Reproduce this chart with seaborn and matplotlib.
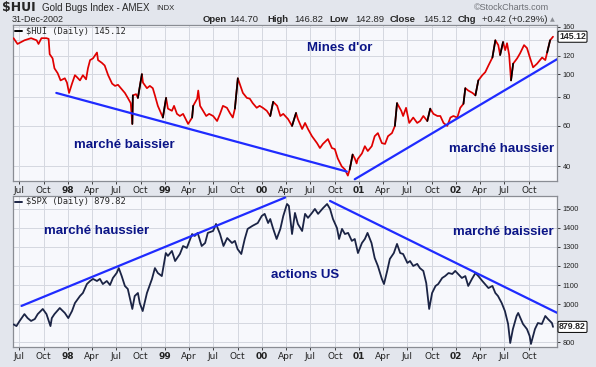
import matplotlib
matplotlib.use("Agg")
import matplotlib.pyplot as plt
import matplotlib.ticker as mticker
import pandas as pd
import seaborn as sns

# ---------------- data ----------------
hui_dates = [
    "1997-06-10", "1997-06-25", "1997-07-21", "1997-08-15", "1997-09-05", "1997-09-12", "1997-09-23",
    "1997-10-12", "1997-10-20", "1997-10-24", "1997-11-04", "1997-11-11", "1997-11-23", "1997-12-04",
    "1997-12-20", "1997-12-28", "1998-01-05", "1998-01-16", "1998-01-27", "1998-02-04", "1998-02-15",
    "1998-02-26", "1998-03-10", "1998-03-17", "1998-03-25", "1998-04-05", "1998-04-20", "1998-04-24",
    "1998-05-08", "1998-05-19", "1998-06-01", "1998-06-16", "1998-06-27", "1998-07-08", "1998-07-19",
    "1998-08-03", "1998-08-14", "1998-08-25", "1998-08-31", "1998-09-02", "1998-09-14", "1998-09-21",
    "1998-10-06", "1998-10-10", "1998-10-25", "1998-11-05", "1998-11-16", "1998-11-24", "1998-12-05",
    "1998-12-24", "1999-01-05", "1999-01-12", "1999-01-27", "1999-02-04", "1999-02-15", "1999-02-26",
    "1999-03-10", "1999-03-17", "1999-03-29", "1999-04-13", "1999-04-17", "1999-05-02", "1999-05-06",
    "1999-05-13", "1999-05-24", "1999-06-05", "1999-06-16", "1999-07-01", "1999-07-16", "1999-07-27",
    "1999-08-07", "1999-08-22", "1999-09-02", "1999-09-13", "1999-09-21", "1999-10-02", "1999-10-09",
    "1999-10-21", "1999-11-05", "1999-11-16", "1999-11-27", "1999-12-12", "1999-12-23", "2000-01-04",
    "2000-01-19", "2000-02-01", "2000-02-12", "2000-02-27", "2000-03-10", "2000-03-21", "2000-04-08",
    "2000-04-23", "2000-05-08", "2000-05-15", "2000-05-31", "2000-06-11", "2000-06-22", "2000-07-07",
    "2000-07-26", "2000-08-06", "2000-08-17", "2000-09-05", "2000-09-20", "2000-10-01", "2000-10-12",
    "2000-10-27", "2000-11-08", "2000-11-19", "2000-11-26", "2000-12-07", "2000-12-15", "2000-12-22",
    "2000-12-26", "2001-01-11", "2001-01-22", "2001-02-02", "2001-02-17", "2001-02-28", "2001-03-12",
    "2001-03-27", "2001-04-08", "2001-04-19", "2001-05-04", "2001-05-15", "2001-05-23", "2001-06-08",
    "2001-06-15", "2001-06-26", "2001-07-08", "2001-07-23", "2001-08-07", "2001-08-18", "2001-08-30",
    "2001-09-14", "2001-09-25", "2001-10-07", "2001-10-22", "2001-11-02", "2001-11-14", "2001-11-28",
    "2001-12-10", "2001-12-21", "2002-01-05", "2002-01-16", "2002-01-28", "2002-02-04", "2002-02-15",
    "2002-03-03", "2002-03-14", "2002-03-25", "2002-04-09", "2002-04-20", "2002-05-02", "2002-05-17",
    "2002-05-28", "2002-06-08", "2002-06-15", "2002-06-26", "2002-07-04", "2002-07-11", "2002-07-19",
    "2002-07-26", "2002-08-03", "2002-08-18", "2002-08-29", "2002-09-13", "2002-09-24", "2002-10-06",
    "2002-10-17", "2002-11-01", "2002-11-20", "2002-12-02", "2002-12-09", "2002-12-20", "2002-12-31",
]
hui_values = [
    143, 135, 140, 143, 140, 135, 143,
    143, 142, 122, 117, 106, 101, 94,
    96, 92, 83, 91, 99, 97, 94,
    99, 95, 106, 115, 117, 124, 115,
    112, 109, 99, 91, 89, 90, 87,
    83, 79, 75, 61, 81, 82, 79,
    100, 92, 87, 89, 87, 81, 73,
    65, 79, 71, 69.5, 73, 67.4, 66,
    67.4, 65, 61, 65, 73, 78.4, 85,
    73, 69.5, 66, 67.4, 66, 62.8, 67.4,
    73, 71.6, 68, 65, 71, 96, 91,
    83, 79, 78.4, 75, 71.6, 73, 71.6,
    69.5, 66, 76, 73, 66, 67.4, 64,
    59.8, 68, 64, 58, 61.6, 58, 54,
    50.4, 48, 50, 52.5, 48, 47.5, 43.3,
    40, 38.8, 36.5, 38.8, 45, 43.3, 41.2,
    43, 45.5, 48.9, 46.6, 48.9, 54, 55.7,
    50.4, 50, 54, 55.7, 59.8, 75, 69.5,
    66, 71.6, 61.6, 65, 61.6, 62.8, 66,
    62.8, 71, 67.4, 66, 66, 61.6, 59.8,
    65, 66, 65, 71.6, 74.5, 87, 85,
    83, 81, 94, 99, 102, 109, 118,
    140, 133.5, 121, 137.6, 127, 136, 121,
    94, 111, 117, 123, 133.5, 129.6, 117,
    107, 111, 118, 115, 124, 140, 145.12,
]

spx_dates = [
    "1997-06-10", "1997-06-21", "1997-07-03", "1997-07-21", "1997-08-02", "1997-08-15", "1997-08-29",
    "1997-09-09", "1997-09-28", "1997-10-12", "1997-10-27", "1997-11-01", "1997-11-11", "1997-12-01",
    "1997-12-20", "1998-01-02", "1998-01-16", "1998-01-27", "1998-02-15", "1998-02-26", "1998-03-13",
    "1998-03-25", "1998-04-05", "1998-04-20", "1998-05-01", "1998-05-12", "1998-05-27", "1998-06-08",
    "1998-06-19", "1998-07-03", "1998-07-11", "1998-07-22", "1998-08-03", "1998-08-14", "1998-08-31",
    "1998-09-09", "1998-09-21", "1998-09-28", "1998-10-09", "1998-10-25", "1998-11-13", "1998-11-24",
    "1998-12-05", "1998-12-20", "1999-01-04", "1999-01-12", "1999-01-27", "1999-02-08", "1999-02-26",
    "1999-03-10", "1999-03-24", "1999-04-13", "1999-04-23", "1999-05-04", "1999-05-19", "1999-06-01",
    "1999-06-11", "1999-07-01", "1999-07-12", "1999-07-27", "1999-08-09", "1999-08-23", "1999-09-10",
    "1999-09-21", "1999-10-01", "1999-10-15", "1999-10-28", "1999-11-08", "1999-11-26", "1999-12-16",
    "1999-12-31", "2000-01-11", "2000-01-24", "2000-02-01", "2000-02-11", "2000-02-25", "2000-03-10",
    "2000-03-21", "2000-04-04", "2000-04-11", "2000-04-23", "2000-05-04", "2000-05-15", "2000-05-31",
    "2000-06-11", "2000-06-22", "2000-07-07", "2000-07-18", "2000-07-30", "2000-08-18", "2000-09-02",
    "2000-09-13", "2000-09-24", "2000-10-09", "2000-10-17", "2000-10-28", "2000-11-08", "2000-11-20",
    "2000-12-04", "2000-12-15", "2000-12-27", "2001-01-11", "2001-01-22", "2001-02-01", "2001-02-16",
    "2001-02-28", "2001-03-12", "2001-03-27", "2001-04-04", "2001-04-16", "2001-04-26", "2001-05-11",
    "2001-05-23", "2001-06-04", "2001-06-15", "2001-07-01", "2001-07-11", "2001-07-23", "2001-08-07",
    "2001-08-17", "2001-08-30", "2001-09-10", "2001-09-21", "2001-10-02", "2001-10-15", "2001-10-25",
    "2001-11-09", "2001-11-20", "2001-12-03", "2001-12-17", "2001-12-28", "2002-01-08", "2002-01-22",
    "2002-02-04", "2002-02-15", "2002-03-01", "2002-03-14", "2002-03-25", "2002-04-09", "2002-04-19",
    "2002-05-02", "2002-05-17", "2002-05-28", "2002-06-07", "2002-06-21", "2002-07-03", "2002-07-15",
    "2002-07-23", "2002-08-02", "2002-08-16", "2002-08-22", "2002-09-09", "2002-09-24", "2002-10-04",
    "2002-10-09", "2002-10-24", "2002-11-04", "2002-11-19", "2002-12-02", "2002-12-12", "2002-12-27",
    "2002-12-31",
]
spx_values = [
    893, 884, 911, 947, 926, 911, 921,
    947, 974, 947, 884, 926, 947, 979,
    953, 926, 963, 1005, 1042, 1058, 1105,
    1121, 1132, 1121, 1132, 1105, 1121, 1100,
    1137, 1163, 1189, 1147, 1095, 1079, 974,
    1042, 1058, 1005, 963, 1058, 1132, 1189,
    1163, 1147, 1268, 1253, 1279, 1226, 1263,
    1305, 1295, 1368, 1358, 1374, 1305, 1321,
    1374, 1384, 1421, 1368, 1305, 1347, 1321,
    1332, 1289, 1263, 1342, 1395, 1411, 1426,
    1463, 1474, 1426, 1447, 1400, 1342, 1395,
    1463, 1526, 1516, 1368, 1479, 1421, 1384,
    1474, 1453, 1479, 1500, 1474, 1505, 1526,
    1500, 1447, 1400, 1342, 1395, 1368, 1374,
    1332, 1342, 1268, 1321, 1342, 1374, 1321,
    1242, 1200, 1132, 1105, 1174, 1237, 1268,
    1316, 1268, 1263, 1216, 1226, 1200, 1211,
    1189, 1174, 1110, 974, 1058, 1095, 1105,
    1137, 1147, 1163, 1158, 1174, 1158, 1137,
    1147, 1095, 1132, 1163, 1147, 1121, 1105,
    1084, 1095, 1058, 1042, 1005, 963, 895,
    795, 868, 937, 953, 895, 868, 832,
    790, 868, 900, 895, 937, 921, 900,
    879.82,
]

# hand-drawn trend lines (end points)
hui_bear_dates = ["1997-11-18", "2000-11-15"]
hui_bear_values = [83, 38]
hui_bull_dates = ["2000-12-15", "2003-01-15"]
hui_bull_values = [35.2, 116]
spx_bull_dates = ["1997-07-10", "2000-03-28"]
spx_bull_values = [990, 1560]
spx_bear_dates = ["2000-09-13", "2003-01-15"]
spx_bear_values = [1542, 954]

hui_ticks = [40, 60, 80, 100, 120, 140, 160]
hui_tick_labels = ["40", "60", "80", "100", "120", "", "160"]
spx_ticks = [800, 900, 1000, 1100, 1200, 1300, 1400, 1500]
spx_tick_labels = ["800", "", "1000", "1100", "1200", "1300", "1400", "1500"]
x_tick_dates = ["1997-07-01", "1997-10-01", "1998-01-01", "1998-04-01", "1998-07-01", "1998-10-01",
                "1999-01-01", "1999-04-01", "1999-07-01", "1999-10-01", "2000-01-01", "2000-04-01",
                "2000-07-01", "2000-10-01", "2001-01-01", "2001-04-01", "2001-07-01", "2001-10-01",
                "2002-01-01", "2002-04-01", "2002-07-01", "2002-10-01"]
x_tick_labels = ["Jul", "Oct", "98", "Apr", "Jul", "Oct", "99", "Apr", "Jul", "Oct", "00", "Apr",
                 "Jul", "Oct", "01", "Apr", "Jul", "Oct", "02", "Apr", "Jul", "Oct"]

hui_last = 145.12
spx_last = 879.82

# ---------------- styling ----------------
sns.set_theme(style="white")
plt.rcParams["font.family"] = ["DejaVu Sans"]

W, H = 596, 367
BG = "#e3e6ed"
PANEL = "#f7f8fc"
GRID = "#d4d8e0"
NAVY = "#0b1587"
TREND = "#1f2bff"

fig = plt.figure(figsize=(W / 100, H / 100), dpi=100, facecolor=BG)


def fx(px):
    return px / W


def fy(py):
    return 1 - py / H


ax1 = fig.add_axes([fx(13), fy(181), (557 - 13) / W, (181 - 25) / H])
ax2 = fig.add_axes([fx(13), fy(347), (557 - 13) / W, (347 - 196) / H])

df_hui = pd.DataFrame({"date": pd.to_datetime(hui_dates), "value": hui_values})
df_spx = pd.DataFrame({"date": pd.to_datetime(spx_dates), "value": spx_values})

xmin, xmax = pd.Timestamp("1997-06-08"), pd.Timestamp("2003-01-15")

# top: HUI (red line, black on sharp up-moves)
sns.lineplot(data=df_hui, x="date", y="value", ax=ax1, color="#e00000", lw=1.25, zorder=3)
for i in range(len(df_hui) - 1):
    v0, v1 = df_hui["value"].iloc[i], df_hui["value"].iloc[i + 1]
    if v1 / v0 > 1.12:
        ax1.plot(df_hui["date"].iloc[i:i + 2], df_hui["value"].iloc[i:i + 2],
                 color="black", lw=1.25, zorder=4)
ax1.set_yscale("log")
ax1.plot(pd.to_datetime(hui_bear_dates), hui_bear_values, color=TREND, lw=1.6, zorder=5)
ax1.plot(pd.to_datetime(hui_bull_dates), hui_bull_values, color=TREND, lw=1.6, zorder=5)
ax1.set_ylim(34.6, 163)
ax1.set_yticks(hui_ticks)
ax1.set_yticklabels(hui_tick_labels)
ax1.yaxis.set_minor_locator(mticker.NullLocator())

# bottom: SPX
sns.lineplot(data=df_spx, x="date", y="value", ax=ax2, color="#1b2445", lw=1.3, zorder=3)
ax2.plot(pd.to_datetime(spx_bull_dates), spx_bull_values, color=TREND, lw=1.6, zorder=5)
ax2.plot(pd.to_datetime(spx_bear_dates), spx_bear_values, color=TREND, lw=1.6, zorder=5)
ax2.set_ylim(774, 1568)
ax2.set_yticks(spx_ticks)
ax2.set_yticklabels(spx_tick_labels)

for ax in (ax1, ax2):
    ax.set_facecolor(PANEL)
    ax.set_xlim(xmin, xmax)
    ax.set_xlabel("")
    ax.set_ylabel("")
    ax.set_xticks(pd.to_datetime(x_tick_dates))
    ax.set_xticklabels(x_tick_labels)
    ax.xaxis.set_minor_locator(mticker.NullLocator())
    ax.grid(True, which="major", color=GRID, lw=0.7)
    ax.set_axisbelow(True)
    ax.yaxis.tick_right()
    ax.tick_params(axis="y", which="both", right=True, left=False, length=2, width=0.6,
                   pad=2, labelsize=5.3, colors="#222222")
    ax.tick_params(axis="x", bottom=True, length=2, width=0.6, pad=1.5, labelsize=6.5,
                   colors="#222222")
    for lab in ax.get_yticklabels():
        lab.set_fontfamily(["Liberation Sans", "DejaVu Sans"])
    for lab, txt in zip(ax.get_xticklabels(), x_tick_labels):
        if txt.isdigit():
            lab.set_fontweight("bold")
    for s in ax.spines.values():
        s.set_color("#8a8d94")
        s.set_linewidth(0.9)

# price tags
for ax, val in ((ax1, hui_last), (ax2, spx_last)):
    ax.annotate(f"{val:.2f}", xy=(1.0, val), xycoords=("axes fraction", "data"),
                xytext=(1.5, 0), textcoords="offset points", ha="left", va="center",
                fontsize=6.3, fontweight="bold", family=["Liberation Sans", "DejaVu Sans"],
                bbox=dict(boxstyle="round,pad=0.12", fc="white", ec="black", lw=0.7),
                annotation_clip=False, zorder=10)

# panel legends
mono = ["DejaVu Sans Mono"]
fig.lines.append(plt.Line2D([fx(15), fx(22)], [fy(31), fy(31)], color="black", lw=1.4,
                            transform=fig.transFigure))
fig.text(fx(26), fy(31), f"$HUI (Daily) {hui_last:.2f}", family=mono, fontsize=6.3,
         va="center", ha="left")
fig.lines.append(plt.Line2D([fx(15), fx(22)], [fy(202), fy(202)], color="#1b2445", lw=1.4,
                            transform=fig.transFigure))
fig.text(fx(26), fy(202), f"$SPX (Daily) {spx_last:.2f}", family=mono, fontsize=6.3,
         va="center", ha="left")

# header
sans = ["Liberation Sans", "DejaVu Sans"]
fig.text(fx(2), fy(8), "$HUI", fontsize=9, fontweight="bold", family=["DejaVu Sans"],
         va="center", ha="left")
fig.text(fx(42), fy(8), "Gold Bugs Index - AMEX", fontsize=7, family=sans, va="center", ha="left")
fig.text(fx(156), fy(8), "INDX", fontsize=5.5, family=sans, va="center", ha="left")
fig.text(fx(12), fy(20), "31-Dec-2002", fontsize=6.5, family=sans, va="center", ha="left")
fig.text(fx(474), fy(7), "\u00a9StockCharts.com", fontsize=6.5, family=sans, color="#6d6f75",
         va="center", ha="left")
header_parts = [
    (203, "Open", True), (229, "144.70", False), (267, "High", True), (294, "146.82", False),
    (329, "Low", True), (355, "142.89", False), (390, "Close", True), (423, "145.12", False),
    (458, "Chg", True), (482, "+0.42 (+0.29%)", False),
]
for px, txt, bold in header_parts:
    fig.text(fx(px), fy(19.5), txt, fontsize=6.8, family=sans,
             fontweight="bold" if bold else "normal", va="center", ha="left")
fig.text(fx(550), fy(19.5), "\u25b2", fontsize=4.5, color="#8a8d94", va="center", ha="left")

# chart annotations
ann = dict(fontsize=9.5, fontweight="bold", family=sans, color=NAVY, ha="center", va="center")
fig.text(fx(340), fy(48), "Mines d'or", **ann)
fig.text(fx(124), fy(145), "marché baissier", **ann)
fig.text(fx(502), fy(149), "marché haussier", **ann)
fig.text(fx(97), fy(231), "marché haussier", **ann)
fig.text(fx(305), fy(275), "actions US", **ann)
fig.text(fx(503), fy(232), "marché baissier", **ann)

fig.savefig("out.png", dpi=100, facecolor=BG)
